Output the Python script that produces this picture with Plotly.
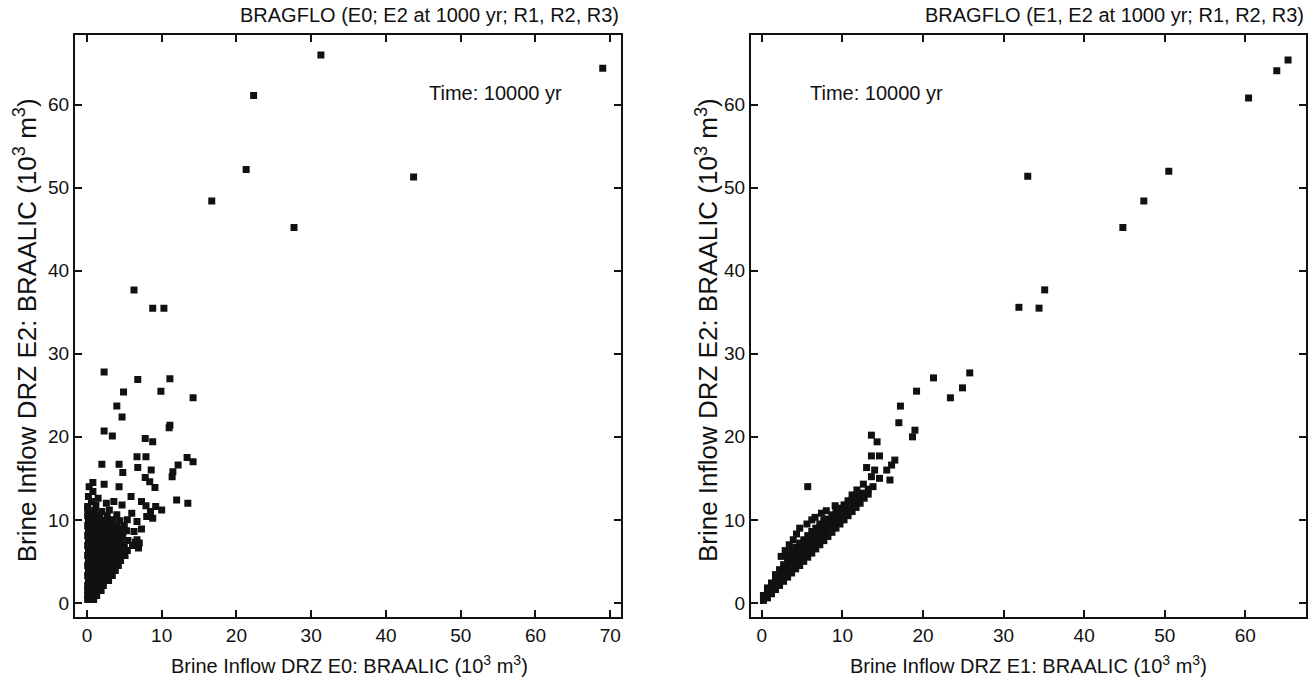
import plotly.graph_objects as go

# ---------------- Left panel: E0 (x) vs E2 (y) ----------------
left_outliers_x = [31.3, 69.0, 22.3, 21.3, 43.7, 16.7, 27.7, 6.3, 8.8, 10.3,
                   2.3, 6.8, 11.1, 4.9, 9.9, 14.2, 4.0, 4.7, 11.1, 11.0, 2.3, 3.4, 7.8, 8.8,
                   6.7, 7.9, 13.4, 14.2, 12.2, 11.5, 11.4, 2.0, 4.3, 4.8, 6.8, 8.6, 7.8, 8.4, 9.1,
                   0.8, 2.3, 4.3, 0.8, 12.0, 13.5]
left_outliers_y = [66.0, 64.4, 61.1, 52.2, 51.3, 48.4, 45.2, 37.7, 35.5, 35.5,
                   27.8, 26.9, 27.0, 25.4, 25.5, 24.7, 23.7, 22.4, 21.4, 21.1, 20.7, 20.1, 19.8, 19.4,
                   17.6, 17.6, 17.5, 17.0, 16.6, 15.8, 15.2, 16.7, 16.7, 15.7, 16.3, 16.0, 15.1, 14.6, 13.9,
                   14.5, 14.3, 14.0, 13.4, 12.4, 12.0]

left_mid_x = [1.5, 2.6, 3.6, 4.7, 5.9, 7.3, 7.9, 8.5, 8.8, 6.0, 5.4, 6.7, 5.0, 7.3, 6.3,
              4.8, 6.7, 6.1, 7.0, 4.2, 4.4, 3.4, 1.2, 0.6, 2.0, 3.0, 4.0, 9.2, 10.0, 8.0,
              6.5, 6.9, 0.2, 0.3, 0.1]
left_mid_y = [12.6, 12.0, 12.2, 11.8, 12.8, 12.2, 11.7, 11.0, 10.2, 10.8, 10.0, 9.8, 9.3, 8.9, 8.6,
              8.4, 7.6, 6.9, 7.2, 7.5, 9.0, 10.0, 11.8, 12.2, 11.0, 11.2, 10.6, 11.6, 11.2, 10.4,
              7.3, 6.6, 12.8, 14.0, 11.4]

left_dense_x = [0.1, 0.5, 0.9,
                0.1, 0.5, 0.9, 1.3,
                0.1, 0.5, 1.0, 1.5, 1.9,
                0.1, 0.6, 1.1, 1.6, 2.2,
                0.2, 0.7, 1.2, 1.8, 2.4, 2.9,
                0.1, 0.6, 1.2, 1.8, 2.4, 3.0, 3.4,
                0.2, 0.8, 1.4, 2.0, 2.6, 3.2, 3.8,
                0.1, 0.7, 1.3, 1.9, 2.5, 3.1, 3.7, 4.2,
                0.2, 0.8, 1.4, 2.0, 2.7, 3.3, 3.9, 4.5,
                0.1, 0.7, 1.3, 2.0, 2.6, 3.3, 4.0, 4.7, 5.1,
                0.2, 0.8, 1.5, 2.1, 2.8, 3.5, 4.2, 4.9, 5.4,
                0.1, 0.7, 1.4, 2.1, 2.8, 3.5, 4.3, 5.0,
                0.2, 0.9, 1.6, 2.3, 3.0, 3.8, 4.6, 5.5,
                0.1, 0.8, 1.5, 2.3, 3.1, 3.9, 4.7,
                0.2, 0.9, 1.7, 2.5, 3.3, 4.1, 5.3,
                0.1, 0.8, 1.6, 2.4, 3.2, 4.0,
                0.2, 1.0, 1.8, 2.6, 3.5, 4.4,
                0.1, 0.9, 1.7, 2.7,
                0.2, 1.1, 0.1]
left_dense_y = [0.4, 0.4, 0.4,
                0.9, 0.9, 0.9, 0.9,
                1.5, 1.5, 1.5, 1.5, 1.5,
                2.1, 2.1, 2.1, 2.1, 2.1,
                2.7, 2.7, 2.7, 2.7, 2.7, 2.7,
                3.3, 3.3, 3.3, 3.3, 3.3, 3.3, 3.3,
                3.9, 3.9, 3.9, 3.9, 3.9, 3.9, 3.9,
                4.5, 4.5, 4.5, 4.5, 4.5, 4.5, 4.5, 4.5,
                5.1, 5.1, 5.1, 5.1, 5.1, 5.1, 5.1, 5.1,
                5.7, 5.7, 5.7, 5.7, 5.7, 5.7, 5.7, 5.7, 5.7,
                6.3, 6.3, 6.3, 6.3, 6.3, 6.3, 6.3, 6.3, 6.3,
                6.9, 6.9, 6.9, 6.9, 6.9, 6.9, 6.9, 6.9,
                7.5, 7.5, 7.5, 7.5, 7.5, 7.5, 7.5, 7.5,
                8.1, 8.1, 8.1, 8.1, 8.1, 8.1, 8.1,
                8.7, 8.7, 8.7, 8.7, 8.7, 8.7, 8.7,
                9.3, 9.3, 9.3, 9.3, 9.3, 9.3,
                9.9, 9.9, 9.9, 9.9, 9.9, 9.9,
                10.5, 10.5, 10.5, 10.5,
                11.1, 11.1, 11.6]

# ---------------- Right panel: E1 (x) vs E2 (y) ----------------
right_outliers_x = [60.4, 63.9, 65.3, 33.0, 50.5, 47.4, 44.8, 35.1, 31.9, 34.4,
                    19.2, 21.3, 23.4, 24.9, 25.8, 17.2, 17.0, 19.0, 18.7, 13.6, 14.3,
                    13.6, 14.6, 16.5, 16.1, 15.5, 13.0, 14.0, 13.6, 14.6, 15.9, 13.8,
                    11.8, 11.2, 9.1, 7.4, 6.2, 4.7, 5.7, 12.6, 8.0, 6.6, 5.6]
right_outliers_y = [60.8, 64.1, 65.4, 51.4, 52.0, 48.4, 45.2, 37.7, 35.6, 35.5,
                    25.5, 27.1, 24.7, 25.9, 27.7, 23.7, 21.7, 20.8, 20.0, 20.2, 19.4,
                    17.7, 17.7, 17.2, 16.6, 16.0, 16.3, 16.0, 15.2, 15.0, 14.8, 14.0,
                    13.6, 13.0, 11.7, 10.8, 10.0, 9.0, 14.0, 14.3, 11.1, 10.3, 9.5]

right_band_x = [0.2, 0.2,
                0.7, 0.7, 0.7,
                1.2, 1.2, 1.2,
                1.7, 1.7, 1.7, 1.7,
                2.2, 2.2, 2.2, 2.2,
                2.7, 2.7, 2.7, 2.7,
                3.2, 3.2, 3.2, 3.2, 3.2,
                3.7, 3.7, 3.7, 3.7, 3.7,
                4.2, 4.2, 4.2, 4.2, 4.2,
                4.7, 4.7, 4.7, 4.7, 4.7,
                5.2, 5.2, 5.2, 5.2, 5.2,
                5.7, 5.7, 5.7, 5.7, 5.7,
                6.2, 6.2, 6.2, 6.2, 6.2,
                6.7, 6.7, 6.7, 6.7, 6.7,
                7.2, 7.2, 7.2, 7.2, 7.2,
                7.7, 7.7, 7.7, 7.7, 7.7,
                8.2, 8.2, 8.2, 8.2,
                8.7, 8.7, 8.7, 8.7,
                9.2, 9.2, 9.2, 9.2,
                9.7, 9.7, 9.7, 9.7,
                10.2, 10.2, 10.2, 10.2,
                10.7, 10.7, 10.7, 10.7,
                11.2, 11.2, 11.2,
                11.7, 11.7, 11.7,
                12.2, 12.2, 12.2,
                12.7, 12.7,
                13.2, 13.2,
                2.4, 2.9, 3.4, 3.9, 4.3]
right_band_y = [0.3, 0.9,
                0.6, 1.2, 1.8,
                1.1, 1.7, 2.4,
                1.6, 2.2, 2.9, 3.4,
                2.1, 2.7, 3.3, 4.0,
                2.6, 3.2, 3.9, 4.6,
                3.1, 3.7, 4.4, 5.1, 5.6,
                3.6, 4.2, 4.9, 5.6, 6.2,
                4.1, 4.7, 5.4, 6.1, 6.7,
                4.5, 5.2, 5.9, 6.6, 7.2,
                5.0, 5.7, 6.4, 7.1, 7.6,
                5.5, 6.2, 6.9, 7.6, 8.1,
                6.0, 6.7, 7.4, 8.1, 8.6,
                6.5, 7.2, 7.9, 8.6, 9.0,
                7.0, 7.7, 8.4, 9.1, 9.5,
                7.5, 8.2, 8.9, 9.6, 10.0,
                8.0, 8.7, 9.4, 10.1,
                8.5, 9.2, 9.9, 10.6,
                9.0, 9.7, 10.4, 11.0,
                9.5, 10.2, 10.9, 11.4,
                10.0, 10.7, 11.4, 11.8,
                10.5, 11.2, 11.9, 12.3,
                11.0, 11.7, 12.4,
                11.5, 12.2, 12.8,
                12.0, 12.7, 13.2,
                12.6, 13.2,
                13.1, 13.7,
                5.6, 6.3, 7.0, 7.6, 8.3]

left_x = left_outliers_x + left_mid_x + left_dense_x
left_y = left_outliers_y + left_mid_y + left_dense_y
right_x = right_outliers_x + right_band_x
right_y = right_outliers_y + right_band_y

left_xticks = [0, 10, 20, 30, 40, 50, 60, 70]
right_xticks = [0, 10, 20, 30, 40, 50, 60]
yticks = [0, 10, 20, 30, 40, 50, 60]

FONT = "Liberation Sans, Arial, Helvetica, sans-serif"
INK = "#111111"

fig = go.Figure()
mk = dict(symbol="square", size=7, color=INK, line=dict(width=0))
fig.add_trace(go.Scatter(x=left_x, y=left_y, mode="markers", marker=mk,
                         xaxis="x", yaxis="y", showlegend=False))
fig.add_trace(go.Scatter(x=right_x, y=right_y, mode="markers", marker=mk,
                         xaxis="x2", yaxis="y2", showlegend=False))

ax_common = dict(showline=True, linewidth=2, linecolor=INK, mirror="ticks",
                 ticks="inside", ticklen=7, tickwidth=1.5, tickcolor=INK,
                 showgrid=False, zeroline=False,
                 tickfont=dict(family=FONT, size=19, color=INK))

ydom = [0.094, 0.9486]
fig.update_layout(
    width=1315, height=681,
    margin=dict(l=0, r=0, t=0, b=0),
    paper_bgcolor="white", plot_bgcolor="white",
    xaxis=dict(domain=[0.057, 0.472], range=[-1.6, 71.4], tickvals=left_xticks,
               anchor="y", **ax_common),
    yaxis=dict(domain=ydom, range=[-1.7, 68.4], tickvals=yticks, anchor="x", **ax_common),
    xaxis2=dict(domain=[0.571, 0.993], range=[-1.36, 67.5], tickvals=right_xticks,
                anchor="y2", **ax_common),
    yaxis2=dict(domain=ydom, range=[-1.7, 68.4], tickvals=yticks, anchor="x2", **ax_common),
)

tf = dict(family=FONT, size=20, color=INK)
lf = dict(family=FONT, size=20, color=INK)
yf = dict(family=FONT, size=26, color=INK)
ann = [
    dict(text="BRAGFLO (E0; E2 at 1000 yr; R1, R2, R3)", xref="paper", yref="paper",
         x=0.472, y=0.978, xanchor="right", yanchor="middle", showarrow=False, font=tf),
    dict(text="BRAGFLO (E1, E2 at 1000 yr; R1, R2, R3)", xref="paper", yref="paper",
         x=0.993, y=0.978, xanchor="right", yanchor="middle", showarrow=False, font=tf),
    dict(text="Time: 10000 yr", xref="x", yref="y", x=45.5, y=61.4,
         xanchor="left", yanchor="middle", showarrow=False, font=tf),
    dict(text="Time: 10000 yr", xref="x2", yref="y2", x=5.7, y=61.4,
         xanchor="left", yanchor="middle", showarrow=False, font=tf),
    dict(text="Brine Inflow DRZ E0: BRAALIC (10<sup>3</sup> m<sup>3</sup>)", xref="paper", yref="paper",
         x=0.266, y=0.024, xanchor="center", yanchor="middle", showarrow=False, font=lf),
    dict(text="Brine Inflow DRZ E1: BRAALIC (10<sup>3</sup> m<sup>3</sup>)", xref="paper", yref="paper",
         x=0.782, y=0.024, xanchor="center", yanchor="middle", showarrow=False, font=lf),
    dict(text="Brine Inflow DRZ E2: BRAALIC (10<sup>3</sup> m<sup>3</sup>)", xref="paper", yref="paper",
         x=0.019, y=0.515, xanchor="center", yanchor="middle", textangle=-90, showarrow=False, font=yf),
    dict(text="Brine Inflow DRZ E2: BRAALIC (10<sup>3</sup> m<sup>3</sup>)", xref="paper", yref="paper",
         x=0.5375, y=0.515, xanchor="center", yanchor="middle", textangle=-90, showarrow=False, font=yf),
]
fig.update_layout(annotations=ann)

fig.write_html("out.html")
